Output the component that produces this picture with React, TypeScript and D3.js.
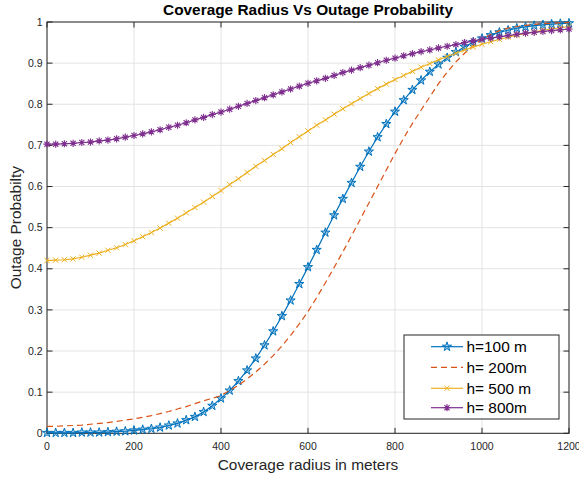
import React from "react";
import * as d3 from "d3";

// coverage radius (m), sampled every 20 m
const radius = d3.range(0, 1201, 20);

const h100 = [
  0.001, 0.001, 0.001, 0.001, 0.002, 0.002, 0.002, 0.003, 0.004, 0.005,
  0.007, 0.009, 0.011, 0.014, 0.019, 0.024, 0.032, 0.040, 0.052, 0.067,
  0.085, 0.104, 0.127, 0.153, 0.182, 0.214, 0.248, 0.285, 0.323, 0.363,
  0.404, 0.446, 0.488, 0.530, 0.570, 0.609, 0.648, 0.685, 0.720, 0.752,
  0.782, 0.810, 0.835, 0.858, 0.879, 0.897, 0.913, 0.927, 0.940, 0.951,
  0.960, 0.968, 0.975, 0.980, 0.985, 0.988, 0.991, 0.993, 0.995, 0.996,
  0.997,
];

const h200 = [
  0.017, 0.017, 0.018, 0.019, 0.020, 0.022, 0.024, 0.026, 0.029, 0.032,
  0.035, 0.039, 0.043, 0.048, 0.053, 0.059, 0.065, 0.072, 0.079, 0.085,
  0.092, 0.104, 0.117, 0.132, 0.149, 0.168, 0.189, 0.212, 0.238, 0.266,
  0.296, 0.330, 0.366, 0.403, 0.441, 0.480, 0.520, 0.560, 0.600, 0.640,
  0.680, 0.718, 0.753, 0.786, 0.818, 0.850, 0.878, 0.903, 0.924, 0.943,
  0.958, 0.970, 0.979, 0.985, 0.989, 0.992, 0.994, 0.996, 0.997, 0.998,
  0.999,
];

const h500 = [
  0.420, 0.421, 0.422, 0.424, 0.428, 0.433, 0.438, 0.445, 0.451, 0.459,
  0.468, 0.478, 0.488, 0.499, 0.511, 0.523, 0.536, 0.549, 0.562, 0.576,
  0.590, 0.605, 0.619, 0.634, 0.649, 0.663, 0.678, 0.692, 0.707, 0.721,
  0.735, 0.749, 0.762, 0.776, 0.789, 0.801, 0.814, 0.826, 0.838, 0.849,
  0.860, 0.870, 0.880, 0.890, 0.899, 0.908, 0.916, 0.924, 0.932, 0.939,
  0.946, 0.952, 0.958, 0.963, 0.968, 0.972, 0.976, 0.980, 0.983, 0.986,
  0.989,
];

const h800 = [
  0.703, 0.703, 0.704, 0.705, 0.707, 0.708, 0.711, 0.713, 0.716, 0.720,
  0.724, 0.728, 0.733, 0.738, 0.744, 0.749, 0.755, 0.762, 0.768, 0.775,
  0.781, 0.788, 0.795, 0.802, 0.809, 0.816, 0.823, 0.830, 0.837, 0.844,
  0.851, 0.857, 0.863, 0.870, 0.877, 0.883, 0.889, 0.895, 0.901, 0.907,
  0.912, 0.918, 0.923, 0.928, 0.932, 0.937, 0.941, 0.945, 0.950, 0.954,
  0.958, 0.961, 0.964, 0.967, 0.970, 0.973, 0.975, 0.977, 0.979, 0.981,
  0.983,
];

const legendLabels = ["h=100 m", "h= 200m", "h= 500 m", "h= 800m"];
const xTicks = [0, 200, 400, 600, 800, 1000, 1200];
const yTicks = [0, 0.1, 0.2, 0.3, 0.4, 0.5, 0.6, 0.7, 0.8, 0.9, 1];

const W = 579;
const H = 481;
const FONT = "'Liberation Sans', Arial, Helvetica, sans-serif";
const AX = "#262626";

const series = [
  { name: legendLabels[0], values: h100, color: "#0072BD", dash: null, marker: "star" },
  { name: legendLabels[1], values: h200, color: "#D95319", dash: "6,4", marker: null },
  { name: legendLabels[2], values: h500, color: "#EDB120", dash: null, marker: "x" },
  { name: legendLabels[3], values: h800, color: "#7E2F8E", dash: null, marker: "asterisk" },
];

const starPath = d3.symbol(d3.symbolStar, 26)()!;

function Marker({ kind, x, y, color }: { kind: string | null; x: number; y: number; color: string }) {
  if (kind === "star") {
    return (
      <path
        d={starPath}
        transform={`translate(${x},${y})`}
        fill={color}
        fillOpacity={0.35}
        stroke={color}
        strokeWidth={1}
      />
    );
  }
  if (kind === "x") {
    const r = 2.6;
    return (
      <path
        d={`M${x - r},${y - r}L${x + r},${y + r}M${x - r},${y + r}L${x + r},${y - r}`}
        stroke={color}
        strokeWidth={1}
        fill="none"
      />
    );
  }
  if (kind === "asterisk") {
    const r = 3.6;
    const d = r * 0.72;
    return (
      <path
        d={`M${x - r},${y}L${x + r},${y}M${x},${y - r}L${x},${y + r}M${x - d},${y - d}L${x + d},${y + d}M${x - d},${y + d}L${x + d},${y - d}`}
        stroke={color}
        strokeWidth={1.1}
        fill="none"
      />
    );
  }
  return null;
}

export default function App() {
  const left = 47, right = 569, top = 22, bottom = 433.3;

  const x = d3.scaleLinear().domain([0, 1200]).range([left, right]);
  const y = d3.scaleLinear().domain([0, 1]).range([bottom, top]);

  const line = d3
    .line<number>()
    .x((_, i) => x(radius[i]))
    .y((d) => y(d));

  const tick = 5.5;
  // legend box
  const lgX = 404, lgY = 335, lgW = 155, lgH = 84;
  const rowY = [346.7, 367.3, 388.3, 407.7];

  return (
    <svg
      width={W}
      height={H}
      style={{ position: "absolute", left: 0, top: 0, background: "#fff" }}
      fontFamily={FONT}
    >
      <rect x={0} y={0} width={W} height={H} fill="#fff" />

      {/* grid */}
      {xTicks.map((t) => (
        <line key={"gx" + t} x1={x(t)} x2={x(t)} y1={top} y2={bottom} stroke="#e3e3e3" strokeWidth={1} />
      ))}
      {yTicks.map((t) => (
        <line key={"gy" + t} x1={left} x2={right} y1={y(t)} y2={y(t)} stroke="#e3e3e3" strokeWidth={1} />
      ))}

      {/* box and ticks */}
      <rect x={left} y={top} width={right - left} height={bottom - top} fill="none" stroke={AX} strokeWidth={1} />
      {xTicks.map((t) => (
        <g key={"tx" + t}>
          <line x1={x(t)} x2={x(t)} y1={bottom} y2={bottom - tick} stroke={AX} />
          <line x1={x(t)} x2={x(t)} y1={top} y2={top + tick} stroke={AX} />
          <text x={x(t)} y={450} textAnchor="middle" fontSize={10.5} fill={AX}>
            {t}
          </text>
        </g>
      ))}
      {yTicks.map((t) => (
        <g key={"ty" + t}>
          <line x1={left} x2={left + tick} y1={y(t)} y2={y(t)} stroke={AX} />
          <line x1={right} x2={right - tick} y1={y(t)} y2={y(t)} stroke={AX} />
          <text x={42.5} y={y(t) + 3.7} textAnchor="end" fontSize={10.5} fill={AX}>
            {d3.format("~g")(t)}
          </text>
        </g>
      ))}

      {/* series */}
      {series.map((s) => (
        <g key={s.name}>
          <path
            d={line(s.values)!}
            fill="none"
            stroke={s.color}
            strokeWidth={1.2}
            strokeDasharray={s.dash ?? undefined}
          />
          {s.marker &&
            s.values.map((v, i) => (
              <Marker key={i} kind={s.marker} x={x(radius[i])} y={y(v)} color={s.color} />
            ))}
        </g>
      ))}

      {/* labels */}
      <text x={(left + right) / 2} y={15} textAnchor="middle" fontSize={15.4} fontWeight="bold" fill="#000">
        Coverage Radius Vs Outage Probability
      </text>
      <text x={(left + right) / 2} y={470} textAnchor="middle" fontSize={15.4} fill={AX}>
        Coverage radius in meters
      </text>
      <text
        transform={`translate(20.5,${(top + bottom) / 2}) rotate(-90)`}
        textAnchor="middle"
        fontSize={15.4}
        fill={AX}
      >
        Outage Probabilty
      </text>

      {/* legend */}
      <rect x={lgX} y={lgY} width={lgW} height={lgH} fill="#fff" stroke={AX} strokeWidth={1} />
      {series.map((s, i) => (
        <g key={"lg" + i}>
          <line
            x1={431}
            x2={463}
            y1={rowY[i]}
            y2={rowY[i]}
            stroke={s.color}
            strokeWidth={1.2}
            strokeDasharray={s.dash ?? undefined}
          />
          <Marker kind={s.marker} x={447} y={rowY[i]} color={s.color} />
          <text x={466.5} y={rowY[i] + 5.5} fontSize={15.4} fill="#000">
            {s.name}
          </text>
        </g>
      ))}
    </svg>
  );
}
